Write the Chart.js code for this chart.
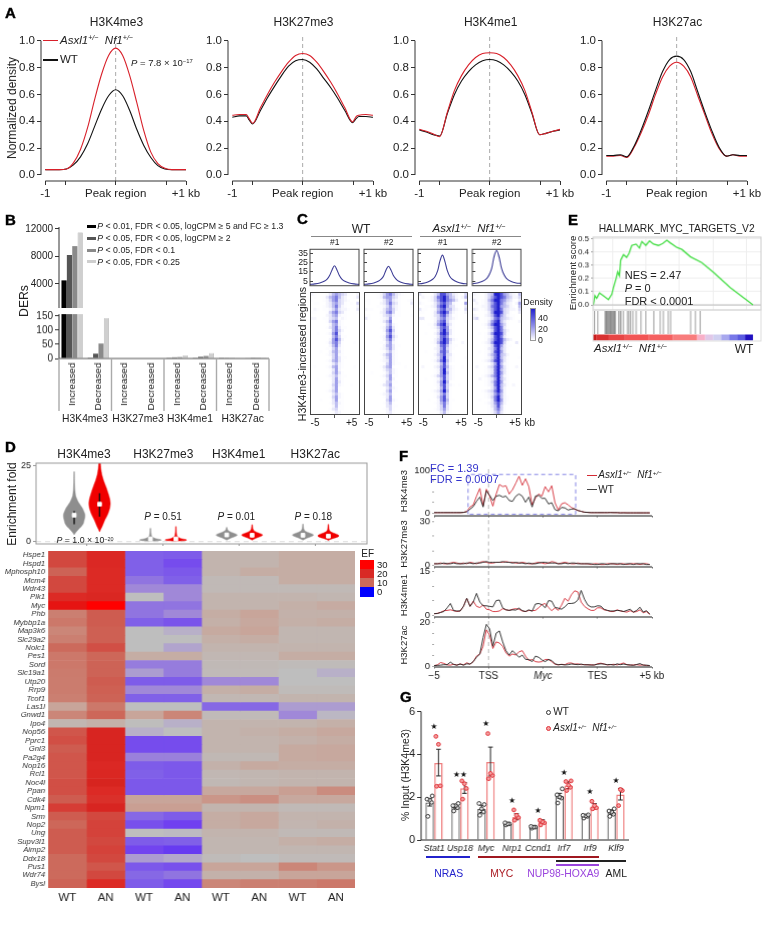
<!DOCTYPE html>
<html>
<head>
<meta charset="utf-8">
<script src="https://cdn.jsdelivr.net/npm/chart.js@4/dist/chart.umd.js"></script>
<style>
  html, body { margin: 0; background: #fff; }
  #page { position: relative; width: 770px; height: 927px; overflow: hidden; font-family: "Liberation Sans", Arial, sans-serif; color: #222; }
  #page canvas { position: absolute; }
  .t { position: absolute; white-space: nowrap; line-height: 1; }
  .t sup { font-size: 0.62em; vertical-align: baseline; position: relative; top: -0.45em; }
  .r { position: absolute; box-sizing: border-box; }
</style>
</head>
<body>
<div id="page"></div>
<script>
// Panel A
const peakX = [-1,-.9,-.8,-.7,-.6,-.5,-.4,-.3,-.2,-.1,0,.1,.2,.3,.4,.5,.6,.7,.8,.9,1];
const k4me3An = [.04,.04,.04,.045,.09,.19,.35,.56,.75,.89,.945,.89,.74,.54,.33,.17,.085,.05,.04,.04,.04];
const k4me3Wt = [.04,.04,.04,.045,.075,.135,.23,.36,.49,.59,.635,.59,.48,.34,.22,.13,.07,.045,.04,.04,.04];
const k27me3X = [-1,-.9,-.8,-.76,-.71,-.6,-.5,-.4,-.3,-.2,-.1,0,.1,.2,.3,.4,.5,.6,.71,.76,.8,.9,1];
const k27me3An = [.445,.45,.45,.42,.385,.5,.6,.69,.77,.84,.89,.905,.89,.84,.77,.69,.6,.5,.395,.435,.445,.45,.445];
const k27me3Wt = [.43,.44,.44,.41,.38,.48,.575,.66,.74,.81,.85,.86,.84,.79,.72,.65,.57,.48,.39,.42,.435,.435,.43];
const dipX = [-1,-.9,-.8,-.71,-.6,-.5,-.4,-.3,-.2,-.1,0,.1,.2,.3,.4,.5,.6,.71,.8,.9,1];
const k4me1An = [.34,.325,.305,.285,.47,.63,.74,.82,.875,.905,.91,.905,.875,.82,.74,.63,.47,.30,.31,.325,.34];
const k4me1Wt = [.335,.32,.30,.29,.46,.6,.7,.77,.82,.85,.86,.85,.82,.77,.7,.6,.46,.30,.31,.325,.335];
const k27acAn = [.14,.14,.145,.13,.21,.32,.45,.6,.73,.81,.84,.81,.73,.59,.45,.31,.2,.14,.15,.14,.14];
const k27acWt = [.145,.145,.15,.135,.22,.34,.48,.63,.77,.86,.885,.86,.77,.62,.47,.33,.21,.14,.15,.145,.145];
const normTicks = [0,.2,.4,.6,.8,1];

// Panel B
const derCats = ['Increased','Decreased','Increased','Decreased','Increased','Decreased','Increased','Decreased'];
const derStrict = [4500,3,0,0,1,1,1,2];
const derCpm = [8200,17,0,0,4,6,1,3];
const derFdr10 = [9500,53,0,0,5,9,1,3];
const derFdr25 = [11500,142,0,0,11,19,1,4];
const derUpperTicks = [4000,8000,12000];
const derLowerTicks = [0,50,100,150];

// Panel C
const densX = [-5,-4,-3,-2,-1.5,-1,-.5,0,.5,1,1.5,2,3,4,5];
const densWt1 = [1.5,2,3,5,7,11,17,21.5,17,11,7,5,3,2,1.5];
const densWt2 = [1.5,2,3,5,7,10.5,17,21,17,11,7.5,5,3,2,1.5];
const densAn1 = [2,2.5,4,7,10,16,27,33,26,16,10,7,4,2.5,2];
const densAn2 = [2,3,4.5,8,12,19,32,38,31,19,12,8,4.5,3,2.5];
const densTicks = [5,15,25,35];
const heatWt1 = ["2100013565431102","0100135675320013","1000124674321000","0110023564310104","0000123574210002","0210112463221003","1100014674310001","0000023562110000","2200113451210000","0000014672100000","0000002562100000","0000013573110000","0000001574200000","0010012683100000","0000001574110000","0000002685200000","0000013674100010","0000002573100000","0000011462100000","0001002563100000","0000012462100000","0000001463110000","0000012563100000","0000001352100000","0100012562100010","0000001362000000","0000001463100000","0000012352110000","0010001362100000","0000000363100000","0000001462100100","0000001361000000","0000012461000000","0000000352100000","0000001462100000","0001000361100000","0000001352100000","0000000251100000","0000001341100000","0000000132000000"];
const heatWt2 = ["1000124675321001","0000125664310000","1100013563210012","0100023574310003","0000112463210001","2110013564210000","0000023674110000","1100013452110001","3100012361100000","0000013571000000","0000001462100000","0000012573100000","0000002684100000","0000001573100000","0000012684200000","0000002573100000","0000011462100000","0000002563110000","0000012463100000","0000001352100000","0000013562100000","0000002462100000","0100012362100000","0000001462110000","0000013561000100","0000002452100000","0010001352100000","0000012461100000","0000001362000000","0000001451100000","0000013461000000","0000000352100000","0000001461100000","0000012351000000","0000001361000000","0000000462100000","0000001351000000","0000000341100000","0000001241000000","0000000231000000"];
const heatAn1 = ["3100135886532104","0211247897542125","1001246897653102","2100135786521016","0011236896431003","3110125785532104","1100136897421002","0000134785311000","3300124674321000","0000025784210001","0001136895310000","0000124786210000","0000013796310000","0010024897310000","0000013786210000","0000024797421000","0000125897310020","0000013785211000","0000023684210000","0010013785200000","0000024684310000","0000013694210001","0000124795210000","0000012584100000","0200023685210010","0000012694210000","0000012695210000","0000124684210000","0010012584210000","0000013695100000","0000012684210100","0000002584100000","0000123695100000","0000012574100000","0000013684100000","0001002685110000","0000012574100000","0000002473100000","0000012463100000","0000001352100000"];
const heatAn2 = ["2100245998653215","1100246898754224","3101257997643103","1201246897532026","0112247896542105","3201246897432214","1000136998431003","2100235896421100","3400124785432100","0000136895310002","0001247996410000","0000135897310000","0000024897420000","0010136998410000","0000124897310000","0000135898532000","0001236998410030","0000124896311000","0000134795310000","0010124896300000","0000135795420000","0000124795310001","0001235896310000","0000013695210000","0200134796310020","0000123795310000","0000123796310000","0001235795210000","0020123695310000","0000124796210000","0000123795310200","0000013695200000","0001234796200000","0000123685200000","0000124795210000","0010013796210000","0000123685200000","0000013584100000","0000012574100000","0000012463100000"];

// Panel D violins: half widths at each fold level
const violinPos = [1,2,4,5,7,8,10,11];
const violinLevels = [
  [23,20,17,15,13,11,9,8,6,5,4,3,2.3],
  [26,24,22,20,18,16,14,12.5,11,9,7,5,4,3.2],
  [4.4,3,2,1.5,1,.7,.5,.3,.2],
  [5,3,2,1.5,1,.7,.5,.3,.2],
  [4.7,4,3.5,3,2.5,2.2,1.8,1.3,.8,.5],
  [5.6,4.2,3.5,3,2.5,2.2,1.8,1.3,.8,.5],
  [5.8,4.2,3.5,3,2.5,2.2,1.8,1.3,.8,.5],
  [5.7,4,3.3,2.8,2.3,1.9,1.5,1.1,.7,.4]
];
const violinWidths = [
  [.01,.015,.03,.06,.16,.32,.42,.42,.36,.28,.16,.06,0],
  [.03,.05,.09,.16,.25,.33,.40,.42,.40,.32,.2,.1,.04,0],
  [.01,.02,.04,.08,.2,.38,.42,.3,0],
  [.01,.02,.04,.08,.2,.38,.42,.3,0],
  [.01,.03,.08,.2,.36,.42,.36,.2,.07,0],
  [.01,.03,.08,.2,.36,.42,.36,.2,.07,0],
  [.01,.03,.08,.2,.36,.42,.36,.2,.07,0],
  [.01,.03,.08,.2,.36,.42,.36,.2,.07,0]
];
const violinMedian = [8.7,12.3,.9,.9,2.2,2.1,2.1,1.8];
const violinQ1 = [5.7,8.2,.8,.8,1.9,1.9,1.8,1.5];
const violinQ3 = [10,15.9,1,1,2.5,2.4,2.4,2.1];

// Panel D heatmap
const genes = ['Hspe1','Hspd1','Mphosph10','Mcm4','Wdr43','Plk1','Myc','Phb','Mybbp1a','Map3k6','Slc29a2','Nolc1','Pes1','Sord','Slc19a1','Utp20','Rrp9','Tcof1','Las1l','Gnwd1','Ipo4','Nop56','Pprc1','Gnl3','Pa2g4','Nop16','Rcl1','Noc4l','Ppan','Cdk4','Npm1','Srm','Nop2','Ung','Supv3l1','Aimp2','Ddx18','Pus1','Wdr74','Bysl'];
const efK4me3Wt = [15,15,11,15,15,20,27,8.5,9,8,8.5,10,9,9,8.8,8.7,8.7,8.5,7,8,5.8,13,14,12,13,13,13,14,14,12,17,12,10.5,12,12,12,10,10,10,11];
const efK4me3An = [21,21,20,20,20,22,30,12,12,11.5,11.5,14,10.5,11,11,12,11.5,11,9,10.5,6.3,23,23,23,23,21,22,24,20,19,23,15,16,16,15,16,15,13,15,20];
const efK27me3Wt = [2,2,2,2.5,3,5,2.5,2.5,2,5,5,5,6.5,2.7,3.5,1.9,3,2,5,7,5.1,4,1.5,1.5,2.8,1.9,2,1.8,1.8,7,7.2,2.2,1.6,5,1.9,1.3,3.5,1.8,2.2,1.9];
const efK27me3An = [1.9,1.5,1.8,2,3,3,2.5,3,1.7,4,5,3.7,6.5,2.7,2.7,1.9,3,2,5,8,4,5,1.5,1.5,2.8,1.8,1.8,1.8,1.8,7,7.2,1.9,1.2,4.7,2,1.1,3.8,1.6,2.5,1.4];
const efK4me1Wt = [6,6,6,5.5,5.5,6,6,6.5,6.3,6.7,6.3,6,5.7,5.5,5.4,3,6.3,5.7,2.2,5.4,6,6,6,6,5.6,6.2,5.7,5.6,6.8,7.5,6,6.5,6.5,6,5.8,5.8,5.3,7,6.2,8];
const efK4me1An = [6,6,6.5,5.5,5.5,6,6,7,6.8,7,6.5,6,5.7,5.5,5.4,3,6.5,5.7,2.2,5.4,6,6.2,6,6,5.6,6.7,5.8,5.8,6.8,7.7,6,6.8,6.8,6,5.8,5.8,5,7,6.2,8.5];
const efK27acWt = [6.5,6.5,6.5,6.5,5.5,6,6.3,6.2,6.3,5.8,5.8,6,6.5,5.3,5,5,5.3,6,3.5,3,6,6.5,6.2,6.7,6.7,6.5,6,6,7.2,6.8,5.5,6,5.9,5.5,6.3,5.8,5.4,8,7,8.5];
const efK27acAn = [6.5,6.5,6.5,6.5,5.5,5.8,6.6,6.2,6.5,5.8,5.8,6,6.5,5.3,4,5,5.3,6,3.5,4.5,6.3,6.8,6.5,6.8,6.8,6.5,6,6,7.8,6.8,5.5,6,6.2,5.5,6.5,5.8,5.4,7.5,7,9];
const efCols = ['WT','AN','WT','AN','WT','AN','WT','AN'];
const efStops = [0,1.2,2,3,4,5,6,7,8,10,15,20,25,30];
const efColors = ['#0000ff','#7040f0','#8060e8','#a088d8','#b8b0c8','#bebebe','#c2b4ae','#c8a59a','#cb8678','#cc6a5c','#d2483f','#dc2a25','#d6221e','#ff0000'];

// Panel E
const gseaRank = [.2,1.2,2.3,4,7.5,9.6,11.7,12.7,14.4,15.4,16.5,17.3,19,21,22.5,24.2,26.9,29,30.5,33,35.3,37.8,40.9,43.6,46.1,48.2,52.4,55.5,60.8,68,75.4,85.8,100];
const gseaScore = [0,.07,.05,.09,.06,.04,.08,.13,.2,.25,.22,.34,.38,.36,.39,.45,.46,.43,.48,.45,.485,.46,.45,.465,.49,.47,.435,.42,.365,.32,.245,.13,0];
const gseaHits = [1,3,7.5,8,8.5,9,9.5,10,10.5,11,11.5,12,12.5,13,13.5,14,16,17,17.5,19,21.5,22.5,23.5,25,27,30,33,38,42,44,47,48.5,61,64,67];
const gseaTicks = [0,.1,.2,.3,.4,.5];
const gseaBarEdges = [0,2,10,20,35,50,65,70,75,80,85,90,95,100];
const gseaBarColors = ['#c81a1a','#d83030','#e84545','#f25555','#f56060','#f87c7c','#f8b0c8','#e0c8e8','#d0d0f0','#a8a8ee','#7878e8','#5a5ae0','#2010c0'];

// Panel F
const mycK4me3An = [2,2,2,2,2,2,2,2,2,2.5,5,15,20,40,58,18,56,40,17,45,67,62,64,45,55,70,86,65,80,62,20,35,45,40,62,50,64,25,8,22,25,20,14,10,7,5,3,2.5,2,2,2,2,2,2,2.5,2,2,1.5,2,1.5,1.5,1.5,1.5,1.5,1.5,1.5,1.5];
const mycK4me3Wt = [2,2,2,2,2,2,2,2,2,2.5,4,10,16,28,38,15,52,42,30,40,42,38,40,30,28,40,45,40,26,38,15,40,42,35,35,22,25,9,6,14,13,8,10,11,7,5,3,2.5,2,2,2,2,2,2,2,2,2,1.5,1.5,1.5,1.5,1.5,1.5,1.5,1.5,1.5,1.5];
const mycK27me3An = [1,1,1.5,1,1,1.5,2,1.5,1,1.5,1,2,1.5,1,2,2.5,2,1.5,1.5,2,2,2,2.5,2,2,1.5,1.5,2,1.5,1,1,1.5,2,1.5,1,1.5,2.5,2,1,1.5,2,1.5,1,1,1.5,1,1,1,.5,1,1,.5,.5,1,1,1,.5,1,1,.5,1,1,1,.5,1,1,.5];
const mycK27me3Wt = [1,1,1,1.5,1,1,1.5,1,1,1,1.5,1.5,1,1.5,1.5,2,2.5,2,2,2,2,2.5,2,2,1.5,2,1.5,1.5,1,1.5,1,1,1.5,2,2,1.5,1.5,1.5,1,1,1.5,1,1.5,1.5,1,1,1,1,1,.5,.5,1,1,.5,1,1,1,1,.5,1,1,.5,1,1,1,.5,.5];
const mycK4me1An = [.4,.6,.9,1.5,1.6,1.8,1.5,1.2,1.4,3,5.8,3,4.8,3,2.6,3.5,2,1.8,1.2,1.2,1.4,2.2,1.8,1.6,2,2.2,2,1.4,1.2,1.6,1.5,1.6,2.5,3.6,4,2.6,1.5,2.5,1.6,3.4,5.8,4.8,7,8.4,8,4.5,3,2.2,1.6,1.6,2.5,2.5,1.8,1.6,1.2,1.2,1.8,1.4,1.2,1,1.5,1,1.2,1.8,.8,1.2,.2];
const mycK4me1Wt = [.5,.5,.9,1.2,2.5,4,1.5,1.4,1.4,3,5.8,3,4.5,7.5,4.5,3.2,3.2,3,2.8,5,5.2,2.5,1.8,1.6,1.8,1.7,2.4,1.5,1.2,1.8,1.3,3.8,4,3.6,2.5,5,4.8,2.6,2.4,2,2.8,4,4,4.2,5.2,8.5,5.5,3.5,2.8,2.8,3.2,3.1,2,1.6,1.4,1.4,1.6,1.5,1.2,1.6,2,1,1.6,2.7,1,1.5,.3];
const mycK27acAn = [.2,.5,1.6,1.2,.5,.4,.8,.4,1,.5,1.5,.8,2,4.5,5.5,9,16.5,14,8,11,10.5,9,6,4.5,5.5,5,6.5,7,4.5,2.5,3,2,1.8,2,3,3,2,.8,.5,.8,.6,1.3,1.4,.8,1,.6,.7,.5,.6,.4,1,1.3,.9,.5,.6,.8,.5,.9,1.4,.6,.4,.5,.6,.4,.5,.2,.1];
const mycK27acWt = [.2,.3,.4,.6,.6,1.8,.7,.4,.9,.4,1,.9,2,4,5.5,13,19,17,9,15,16,11,7,5,7,5.5,4,5,3,3,2,4.5,4,2.8,2,3,2.5,1,.6,.7,.5,.6,.9,.8,.6,.9,.5,.6,.4,.5,.8,1,.9,.6,.7,.4,1,.6,.9,.6,.5,.3,.7,1.1,.4,.4,.2];
const mycAxisTicks = [-5,-2.5,0,2.5,5];
const mycAxisLabels = ['−5','TSS','Myc','TES','+5 kb'];

// Panel G
const chipGenes = ['Stat1','Usp18','Myc','Nrp1','Ccnd1','Irf7','Irf9','Klf9'];
const chipWt = [1.75,1.55,1.45,.75,.6,2.05,1.12,1.3];
const chipAn = [3.6,2.42,3.65,1.08,.87,2.55,1.57,2.13];
const chipWtSem = [.17,.1,.17,.04,.03,.12,.05,.1];
const chipAnSem = [.62,.25,.67,.14,.07,.16,.12,.27];
const chipWtDots = [[1.1,1.75,1.85,1.9,2.05],[1.35,1.5,1.6,1.6,1.7],[1.15,1.3,1.45,1.7,1.65],[.7,.75,.75,.8],[.55,.6,.6,.63],[1.72,1.95,2,2.1,2.38],[1.02,1.1,1.12,1.15,1.17],[1.1,1.2,1.3,1.35,1.45]];
const chipAnDots = [[2.5,2.52,4.45,4.82],[1.9,2.4,2.62,2.75],[2.85,3,3.1,4.95],[.92,1.05,1.15,1.4],[.7,.8,.85,.92],[2.3,2.45,2.55,2.72,2.75],[1.45,1.5,1.6,1.8],[1.6,2.3,2.35]];
const chipStars = ['★','★★','★','★','★','★','★','★'];
const chipStarY = [5.27,3.05,5.4,1.83,1.33,3.1,2.23,2.76];
const chipTicks = [0,2,4,6];

const RED = '#d8202a';
const page = document.getElementById('page');
const AN_LABEL = '<i>Asxl1<sup>+/−</sup> &nbsp;Nf1<sup>+/−</sup></i>';

// draws the axis lines, frames and separators the figure uses
Chart.register({
  id: 'panelDeco',
  afterDatasetsDraw(chart, args, o) {
    const c = chart.ctx, a = chart.chartArea;
    c.save();
    if (o.frame) {
      c.strokeStyle = o.frame; c.lineWidth = o.frameWidth || 1;
      c.strokeRect(a.left, a.top, a.right - a.left, a.bottom - a.top);
    }
    if (o.xLine) {
      const s = chart.scales.x;
      c.strokeStyle = o.xLine; c.lineWidth = o.xWidth || 1;
      c.beginPath();
      c.moveTo(o.xRange ? s.getPixelForValue(o.xRange[0]) : a.left, a.bottom);
      c.lineTo(o.xRange ? s.getPixelForValue(o.xRange[1]) : a.right, a.bottom);
      c.stroke();
    }
    if (o.yLine) {
      const s = chart.scales.y;
      c.strokeStyle = o.yLine; c.lineWidth = o.yWidth || 1;
      c.beginPath();
      c.moveTo(a.left, o.yRange ? s.getPixelForValue(o.yRange[0]) : a.bottom);
      c.lineTo(a.left, o.yRange ? s.getPixelForValue(o.yRange[1]) : a.top);
      c.stroke();
    }
    if (o.groupRule) {
      const w = (a.right - a.left) / 4;
      c.strokeStyle = o.groupRule; c.lineWidth = 1.4;
      for (let i = 0; i <= 4; i++) {
        c.beginPath(); c.moveTo(a.left + i * w, a.bottom); c.lineTo(a.left + i * w, a.bottom + o.groupLen); c.stroke();
      }
    }
    if (o.marks) {
      const sx = chart.scales.x, sy = chart.scales.y;
      c.fillStyle = '#111'; c.font = '8px "DejaVu Sans"'; c.textAlign = 'center'; c.textBaseline = 'middle';
      o.marks.forEach((m, i) => c.fillText(m, sx.getPixelForValue(i + .5), sy.getPixelForValue(o.markY[i])));
    }
    c.restore();
  }
});

// box = plot area in page px; margins leave room for ticks around it
function plot(box, type, data, scales, deco, m) {
  const [L, T, R, B] = m || [40, 10, 30, 26];
  const cv = document.createElement('canvas');
  cv.style.left = (box[0] - L) + 'px';
  cv.style.top = (box[1] - T) + 'px';
  const w = box[2] - box[0] + L + R, h = box[3] - box[1] + T + B;
  cv.style.width = w + 'px'; cv.style.height = h + 'px';
  cv.width = w; cv.height = h;
  page.appendChild(cv);
  for (const id in scales) {
    const s = scales[id];
    if (s.display === false) continue;
    s.afterFit = id === 'x' ? (a => { a.height = B; }) : (a => { a.width = L; });
  }
  return new Chart(cv, {
    type, data,
    options: {
      responsive: false, animation: false, events: [],
      indexAxis: (deco && deco.horizontal) ? 'y' : 'x',
      layout: { autoPadding: false, padding: { top: T, right: R, left: 0, bottom: 0 } },
      scales,
      plugins: { legend: { display: false }, tooltip: { enabled: false }, title: { display: false }, panelDeco: deco || {} }
    }
  });
}

function txt(x, y, html, o = {}) {
  const d = document.createElement('div');
  d.className = 't';
  d.innerHTML = html;
  d.style.left = x + 'px'; d.style.top = y + 'px';
  d.style.fontSize = (o.s || 10) + 'px';
  if (o.c) d.style.color = o.c;
  if (o.b) { d.style.fontWeight = 'bold'; d.style.webkitTextStroke = '.4px #000'; }
  if (o.i) d.style.fontStyle = 'italic';
  const ax = o.a === 'l' ? '0' : o.a === 'r' ? '-100%' : '-50%';
  d.style.transform = `translate(${ax},-50%)` + (o.r ? ` rotate(${o.r}deg)` : '');
  page.appendChild(d);
}
function rule(x1, y1, x2, y2, color, border) {
  const d = document.createElement('div');
  d.className = 'r';
  d.style.left = x1 + 'px'; d.style.top = y1 + 'px';
  d.style.width = (x2 - x1) + 'px'; d.style.height = (y2 - y1) + 'px';
  if (border) d.style.border = border; else d.style.background = color;
  page.appendChild(d);
  return d;
}
const xy = (xs, ys) => xs.map((x, i) => ({ x, y: ys[i] }));
const gapped = segs => segs.flatMap(s => [{ x: s[0], y: s[1] }, { x: s[2], y: s[3] }, { x: s[2], y: null }]);
const ticksAt = vals => (s => { s.ticks = vals.map(value => ({ value })); });
const line = (points, color, width, extra) => Object.assign({ data: points, borderColor: color, backgroundColor: color, borderWidth: width, pointRadius: 0, showLine: true, fill: false }, extra);
const noGrid = { display: false, tickLength: 0 };

function linearAxis(min, max, vals, cb, font, extra) {
  return Object.assign({
    type: 'linear', min, max, afterBuildTicks: ticksAt(vals),
    border: { display: false },
    grid: { drawOnChartArea: false, tickLength: 4, tickColor: '#333', tickWidth: 1 },
    ticks: { autoSkip: false, maxRotation: 0, padding: 2, color: '#222', font: { family: 'Liberation Sans', size: font }, callback: cb }
  }, extra);
}

// ---- A ----
const peakPanels = [
  { title: 'H3K4me3', box: [41, 34, 186, 181], xs: peakX, an: k4me3An, wt: k4me3Wt, anTop: true },
  { title: 'H3K27me3', box: [227.7, 34, 373.3, 181], xs: k27me3X, an: k27me3An, wt: k27me3Wt, anTop: true },
  { title: 'H3K4me1', box: [415, 34, 560.3, 181], xs: dipX, an: k4me1An, wt: k4me1Wt, anTop: true },
  { title: 'H3K27ac', box: [601.7, 34, 747.3, 181], xs: dipX, an: k27acAn, wt: k27acWt, anTop: false }
];
peakPanels.forEach(p => {
  const wtLine = line(xy(p.xs, p.wt), '#111', 1.1, { cubicInterpolationMode: 'monotone' });
  const anLine = line(xy(p.xs, p.an), RED, 1.1, { cubicInterpolationMode: 'monotone' });
  const mid = line([{ x: 0, y: -.045 }, { x: 0, y: 1.05 }], '#aaa', 1, { borderDash: [4, 3] });
  plot(p.box, 'scatter', { datasets: p.anTop ? [anLine, wtLine, mid] : [wtLine, anLine, mid] }, {
    x: linearAxis(-1.061, 1, [-1, -.716, 0, .716, 1], v => v === -1 ? '-1' : v === 0 ? 'Peak region' : v === 1 ? '+1 kb' : '', 11.5),
    y: linearAxis(-.045, 1.05, normTicks, v => v.toFixed(1), 11.5, {})
  }, { xLine: '#333', xRange: [-1, 1], yLine: '#333', yRange: [0, 1] });
  txt((p.box[0] + p.box[2]) / 2 + 3, 21.7, p.title, { s: 12 });
});
rule(43.3, 40.2, 58.3, 41.4, RED);
txt(60, 40.7, AN_LABEL, { a: 'l', s: 11.5 });
rule(43.3, 59.4, 58.3, 60.6, '#111');
txt(60, 60, 'WT', { a: 'l', s: 11.5 });
txt(131, 62.7, '<i>P</i> = 7.8 × 10<sup>−17</sup>', { a: 'l', s: 9.5 });
txt(11.7, 107.8, 'Normalized density', { s: 12, r: -90 });

// ---- B ----
const derSets = () => [derStrict, derCpm, derFdr10, derFdr25].map((d, i) => ({
  data: d, backgroundColor: ['#000', '#555', '#8a8a8a', '#cfcfcf'][i], borderColor: '#999', borderWidth: i === 3 ? .6 : 0,
  categoryPercentage: .82, barPercentage: .96
}));
plot([59, 227, 269, 308.3], 'bar', { labels: derCats, datasets: derSets() }, {
  x: { type: 'category', border: { display: false }, grid: noGrid, ticks: { display: false } },
  y: linearAxis(466, 12291, derUpperTicks, v => String(v), 10)
}, { yLine: '#333' }, [40, 8, 8, 8]);
plot([59, 314, 269, 358.7], 'bar', { labels: derCats, datasets: derSets() }, {
  x: {
    type: 'category', border: { display: false }, grid: noGrid,
    ticks: { autoSkip: false, minRotation: 90, maxRotation: 90, padding: 4, color: '#222', font: { family: 'Liberation Sans', size: 9.8 } }
  },
  y: linearAxis(0, 157, derLowerTicks, v => String(v), 10)
}, { yLine: '#333', xLine: '#555', groupRule: '#aaa', groupLen: 52 }, [40, 8, 8, 60]);
[['H3K4me3', 85], ['H3K27me3', 138], ['H3K4me1', 190], ['H3K27ac', 242.7]].forEach(g => txt(g[1], 419, g[0], { s: 10.3 }));
txt(24, 301, 'DERs', { s: 12.2, r: -90 });
[
  ['#000', 226.3, '<i>P</i> &lt; 0.01, FDR &lt; 0.05, logCPM ≥ 5 and FC ≥ 1.3'],
  ['#555', 238.3, '<i>P</i> &lt; 0.05, FDR &lt; 0.05, logCPM ≥ 2'],
  ['#8a8a8a', 250, '<i>P</i> &lt; 0.05, FDR &lt; 0.1'],
  ['#cfcfcf', 261.7, '<i>P</i> &lt; 0.05, FDR &lt; 0.25']
].forEach(l => {
  rule(87.3, l[1] - 1.5, 96, l[1] + 1.5, l[0]);
  txt(97.3, l[1], l[2], { a: 'l', s: 8.75 });
});

// ---- C ----
const heatMix = d => {
  const t = Math.pow(d / 9, 2.1);
  return `rgb(${Math.round(255 - 222 * t)},${Math.round(255 - 222 * t)},${Math.round(255 - 50 * t)})`;
};
const heatPanels = [
  { l: 310.3, dens: densWt1, heat: heatWt1, id: '#1' },
  { l: 364.3, dens: densWt2, heat: heatWt2, id: '#2' },
  { l: 418.3, dens: densAn1, heat: heatAn1, id: '#1' },
  { l: 472.3, dens: densAn2, heat: heatAn2, id: '#2' }
];
heatPanels.forEach((p, k) => {
  const densY = linearAxis(0, 39.3, densTicks, v => k === 0 ? String(v) : '', 8.8, {
    grid: { drawOnChartArea: false, tickLength: -3, tickColor: '#444' }
  });
  densY.ticks.padding = 5;
  plot([p.l, 246.7, p.l + 49, 287.7], 'scatter', { datasets: [line(xy(densX, p.dens), '#3d3d96', 1.1, { tension: .35 })] }, {
    x: linearAxis(-5, 5, [0], () => '', 8, { grid: { drawOnChartArea: false, tickLength: 0 } }),
    y: densY
  }, { frame: '#444', frameWidth: 1 }, [24, 8, 8, 8]);
  const cols = Array.from({ length: 16 }, (_, c) => ({
    data: p.heat.map(() => 1),
    backgroundColor: p.heat.map(r => heatMix(+r[c] || 0)),
    borderWidth: 0, categoryPercentage: 1, barPercentage: 1
  }));
  const heat = plot([p.l, 292.7, p.l + 49, 414.3], 'bar', { labels: p.heat.map((_, i) => i), datasets: cols }, {
    x: linearAxis(0, 16, [0, 8, 16], () => '', 8, { stacked: true, grid: { drawOnChartArea: false, tickLength: 0 } }),
    y: { type: 'category', stacked: true, border: { display: false }, grid: noGrid, ticks: { display: false } }
  }, { horizontal: true }, [8, 8, 8, 8]);
  heat.canvas.style.filter = 'blur(0.6px)';
  rule(p.l - .5, 292.2, p.l + 49.5, 414.8, null, '1px solid #444');
  rule(p.l + 24, 414.8, p.l + 25, 417.8, '#555');
  txt(p.l + 24.5, 241.7, p.id, { s: 8.5 });
});
[[315, '-5'], [351.7, '+5'], [369, '-5'], [406.7, '+5'], [423.3, '-5'], [461, '+5'], [478.3, '-5'], [515, '+5'], [529.7, 'kb']].forEach(t => txt(t[0], 423, t[1], { s: 10 }));
txt(361, 229, 'WT', { s: 12 });
rule(311, 236.2, 411.7, 237, '#888');
txt(469, 229, AN_LABEL, { s: 11.5 });
rule(420, 236.2, 521, 237, '#888');
txt(301.7, 353.7, 'H3K4me3-increased regions', { s: 10.6, r: -90 });
txt(538, 302, 'Density', { s: 8.8 });
rule(530.3, 307.7, 535.8, 341, null, '1px solid #999').style.background = 'linear-gradient(#2121cd,#9090e8 55%,#fff)';
[[318, '40'], [329, '20'], [340, '0']].forEach(t => txt(538, t[0], t[1], { a: 'l', s: 8.8 }));

// ---- D violins ----
const violinSets = [];
violinPos.forEach((pos, i) => {
  const left = violinLevels[i].map((y, k) => ({ x: pos - violinWidths[i][k], y }));
  const right = violinLevels[i].map((y, k) => ({ x: pos + violinWidths[i][k], y })).reverse();
  const color = i % 2 ? '#f00000' : '#8e8e8e';
  // first dataset is painted on top
  violinSets.push({ data: [{ x: pos, y: violinMedian[i] }], pointStyle: 'rect', pointRadius: 2.6, backgroundColor: '#fff', borderColor: '#fff', showLine: false });
  violinSets.push(line([{ x: pos, y: violinQ1[i] }, { x: pos, y: violinQ3[i] }], '#111', 1.4));
  violinSets.push(line(left.concat(right), color, .5, { fill: 'shape', backgroundColor: color, tension: .2 }));
});
violinSets.push(line([{ x: -.5, y: 0 }, { x: 12.52, y: 0 }], '#ddd', 1, { borderDash: [5, 4] }));
plot([36, 463.3, 366.7, 544], 'scatter', { datasets: violinSets }, {
  x: linearAxis(-.5, 12.52, [1.5, 4.5, 7.5, 10.5], () => '', 8, { grid: { drawOnChartArea: false, tickLength: 2, tickColor: '#999' } }),
  y: linearAxis(-.76, 25.8, [0, 25], v => String(v), 9, { grid: { drawOnChartArea: false, tickLength: 3, tickColor: '#999' } })
}, { frame: '#999', frameWidth: 1 }, [20, 8, 8, 8]);
[['H3K4me3', 84], ['H3K27me3', 163.3], ['H3K4me1', 238.7], ['H3K27ac', 315.3]].forEach(g => txt(g[1], 454, g[0], { s: 12 }));
txt(11.7, 504, 'Enrichment fold', { s: 12, r: -90 });
txt(163, 516.7, '<i>P</i> = 0.51', { s: 10 });
txt(236.3, 516.7, '<i>P</i> = 0.01', { s: 10 });
txt(313.3, 516.7, '<i>P</i> = 0.18', { s: 10 });
txt(85, 540, '<i>P</i> = 1.0 × 10<sup>−20</sup>', { s: 8.8 });

// ---- D heatmap ----
function efColor(v) {
  let i = 0;
  while (i < efStops.length - 2 && v > efStops[i + 1]) i++;
  const t = Math.min(1, Math.max(0, (v - efStops[i]) / (efStops[i + 1] - efStops[i])));
  const hex = h => [1, 3, 5].map(k => parseInt(h.slice(k, k + 2), 16));
  const a = hex(efColors[i]), b = hex(efColors[i + 1]);
  return `rgb(${a.map((c, k) => Math.round(c + (b[k] - c) * t)).join(',')})`;
}
const efSets = [efK4me3Wt, efK4me3An, efK27me3Wt, efK27me3An, efK4me1Wt, efK4me1An, efK27acWt, efK27acAn].map(col => ({
  data: col.map(() => 1), backgroundColor: col.map(efColor), borderWidth: 0, categoryPercentage: 1, barPercentage: 1
}));
plot([48.3, 550.7, 354.7, 888.3], 'bar', { labels: genes, datasets: efSets }, {
  x: {
    type: 'linear', stacked: true, min: 0, max: 8, afterBuildTicks: ticksAt([.5, 1.5, 2.5, 3.5, 4.5, 5.5, 6.5, 7.5]),
    border: { display: false }, grid: noGrid,
    ticks: { autoSkip: false, maxRotation: 0, padding: 3, color: '#222', font: { family: 'Liberation Sans', size: 11.5 }, callback: (v, i) => efCols[i] }
  },
  y: {
    type: 'category', stacked: true, border: { display: false }, grid: noGrid,
    ticks: { autoSkip: false, padding: 3, color: '#333', font: { family: 'Liberation Sans', size: 7.7, style: 'italic' } }
  }
}, { horizontal: true }, [48, 8, 8, 24]);
txt(367.7, 554, 'EF', { s: 10 });
[['#ff0000', '30', 565], ['#d92a25', '20', 574], ['#cc6a5c', '10', 583], ['#0000ff', '0', 592]].forEach(l => {
  rule(360, l[2] - 4.6, 374, l[2] + 4.6, l[0]);
  txt(377, l[2], l[1], { a: 'l', s: 9.5 });
});

// ---- E ----
plot([593, 237.3, 760.7, 310], 'scatter', {
  datasets: [
    line(xy(gseaRank, gseaScore), '#44dd44', 1.3),
    line([{ x: 0, y: 0 }, { x: 105, y: 0 }], '#bbb', 1)
  ]
}, {
  x: linearAxis(0, 105, [12, 33, 54, 75, 96], () => '', 8, { grid: { color: '#eeeeee', tickLength: 0 } }),
  y: linearAxis(-.038, .513, gseaTicks, v => v.toFixed(1), 8, { grid: { color: '#eeeeee', tickLength: 2, tickColor: '#999' } })
}, { frame: '#ccc', frameWidth: 1 }, [20, 8, 8, 8]);
const rugSets = [line(gapped(gseaHits.map(h => [h, 7, h, 30])), 'rgba(50,50,50,.6)', .8)];
gseaBarColors.forEach((c, i) => rugSets.push(line([{ x: gseaBarEdges[i], y: 3.5 }, { x: gseaBarEdges[i + 1], y: 3.5 }], c, 6)));
plot([593, 310, 760.7, 341], 'scatter', { datasets: rugSets }, {
  x: linearAxis(0, 105, [], () => '', 8, { grid: noGrid }),
  y: linearAxis(0, 31, [], () => '', 8, { grid: noGrid })
}, { frame: '#ddd', frameWidth: 1 }, [8, 8, 8, 8]);
txt(676.7, 229, 'HALLMARK_MYC_TARGETS_V2', { s: 10.3 });
txt(572.7, 273, 'Enrichment score', { s: 9.6, r: -90 });
txt(624.7, 275.3, 'NES = 2.47', { a: 'l', s: 11 });
txt(624.7, 288, '<i>P</i> = 0', { a: 'l', s: 11 });
txt(624.7, 300.7, 'FDR &lt; 0.0001', { a: 'l', s: 11 });
txt(594, 349, AN_LABEL, { a: 'l', s: 11.5 });
txt(744, 349, 'WT', { s: 12 });

// ---- F ----
const fBins = mycK4me3An.map((_, i) => -5 + i * .15);
const fPanels = [
  { box: [434.3, 468, 651.7, 515.7], name: 'H3K4me3', min: -5.5, max: 104.6, top: 100, step: [0, 25, 50, 75, 100], an: mycK4me3An, wt: mycK4me3Wt, cy: 491 },
  { box: [434.3, 517, 651.7, 566.7], name: 'H3K27me3', min: -1.18, max: 33.3, top: 30, step: [0, 10, 20, 30], an: mycK27me3An, wt: mycK27me3Wt, cy: 543.5 },
  { box: [434.3, 568, 651.7, 617], name: 'H3K4me1', min: -.69, max: 16.3, top: 15, step: [0, 5, 10, 15], an: mycK4me1An, wt: mycK4me1Wt, cy: 594.7 },
  { box: [434.3, 618.5, 651.7, 666.7], name: 'H3K27ac', min: -.45, max: 21.45, top: 20, step: [0, 5, 10, 15, 20], an: mycK27acAn, wt: mycK27acWt, cy: 644.7 }
];
fPanels.forEach((p, k) => {
  const sets = [
    line(xy(fBins, p.wt), '#222', .9),
    line(xy(fBins, p.an), '#d42a34', .9),
    line([{ x: -2.5, y: p.min }, { x: -2.5, y: p.max }], '#bbb', 1, { borderDash: [4, 3] })
  ];
  if (k === 0) sets.unshift(line([{ x: -3.44, y: -1.6 }, { x: -3.44, y: 90 }, { x: 1.5, y: 90 }, { x: 1.5, y: -1.6 }, { x: -3.44, y: -1.6 }], '#8484e4', 1, { borderDash: [4, 3] }));
  const last = k === fPanels.length - 1;
  const xAxis = linearAxis(-5, 5, mycAxisTicks, (v, i) => last ? mycAxisLabels[i] : '', 10, {
    grid: { drawOnChartArea: false, tickLength: 1.5, tickColor: '#666' }
  });
  xAxis.ticks.font = ctx => ({ family: 'Liberation Sans', size: 10, style: ctx.index === 2 ? 'italic' : 'normal' });
  plot(p.box, 'scatter', { datasets: sets }, {
    x: xAxis,
    y: linearAxis(p.min, p.max, p.step, v => (v === 0 || v === p.top) ? String(v) : '', 9.5, {
      grid: { drawOnChartArea: false, tickLength: 2, tickColor: '#aaa' }
    })
  }, { xLine: '#666', xWidth: 1.3 }, [22, 8, 30, last ? 18 : 8]);
  txt(404, p.cy, p.name, { s: 9.5, r: -90 });
});
txt(430, 468.3, 'FC = 1.39', { a: 'l', s: 11, c: '#3333cc' });
txt(430, 479.3, 'FDR = 0.0007', { a: 'l', s: 11, c: '#3333cc' });
rule(586.7, 474.6, 596.7, 475.4, '#d42a34');
txt(598.3, 475, AN_LABEL, { a: 'l', s: 10 });
rule(586.7, 489.2, 596.7, 490, '#444');
txt(598.3, 489.7, 'WT', { a: 'l', s: 10 });

// ---- G ----
const dotJitter = [-.07, .07, 0, -.1, .1];
const dotPoints = (dots, shift) => dots.flatMap((d, i) => d.map((y, k) => ({ x: i + .5 + shift + dotJitter[k], y })));
const semSegs = (vals, sems, shift) => vals.flatMap((v, i) => {
  const x = i + .5 + shift;
  return [[x, v - sems[i], x, v + sems[i]], [x - .09, v - sems[i], x + .09, v - sems[i]], [x - .09, v + sems[i], x + .09, v + sems[i]]];
});
const dotSet = (points, edge, fill) => ({ data: points, pointRadius: 1.9, borderWidth: 1, borderColor: edge, backgroundColor: fill, showLine: false });
const gBox = [421.3, 711, 629, 840.3];
plot(gBox, 'bar', {
  labels: chipGenes,
  datasets: [
    { data: chipWt, backgroundColor: '#fff', borderColor: '#555', borderWidth: 1.3, categoryPercentage: .68, barPercentage: .95 },
    { data: chipAn, backgroundColor: '#fff', borderColor: '#ef7f7f', borderWidth: 1.5, categoryPercentage: .68, barPercentage: .95 }
  ]
}, {
  x: {
    type: 'category', border: { display: false }, grid: noGrid,
    ticks: { autoSkip: false, maxRotation: 0, padding: 3, color: '#222', font: { family: 'Liberation Sans', size: 9, style: 'italic' } }
  },
  y: linearAxis(0, 6, chipTicks, v => String(v), 11, {})
}, { xLine: '#222', yLine: '#222' }, [24, 8, 8, 24]);
// dots, error bars and stars sit on a numeric copy of the same axes
plot(gBox, 'scatter', {
  datasets: [
    dotSet(dotPoints(chipWtDots, -.17), '#333', 'rgba(255,255,255,.7)'),
    dotSet(dotPoints(chipAnDots, .17), '#e0333a', '#f4a0a0'),
    line(gapped(semSegs(chipWt, chipWtSem, -.17)), '#222', 1),
    line(gapped(semSegs(chipAn, chipAnSem, .17)), '#222', 1)
  ]
}, {
  x: linearAxis(0, 8, [], () => '', 8, { grid: noGrid }),
  y: linearAxis(0, 6, [], () => '', 8, { grid: noGrid })
}, { marks: chipStars, markY: chipStarY }, [24, 8, 8, 24]);
txt(405, 775.3, '% Input (H3K4me3)', { s: 10.5, r: -90 });
rule(425.7, 856.3, 470.3, 858.3, '#2222cc');
rule(478, 856.3, 599, 858.3, '#a01820');
rule(555.7, 860.3, 625.7, 862.3, '#222');
rule(555.7, 864.3, 599, 866.3, '#9a44dd');
txt(448.7, 874, 'NRAS', { s: 10.4, c: '#2222cc' });
txt(501.7, 874, 'MYC', { s: 10.4, c: '#aa1a22' });
txt(563.3, 874, 'NUP98-HOXA9', { s: 10.4, c: '#9a44dd' });
txt(616.3, 874, 'AML', { s: 10.4, c: '#222' });
[[712, '#333', '#fff'], [728.3, '#e0333a', '#f4a0a0']].forEach(d => {
  const el = rule(546, d[0] - 2.5, 551, d[0] + 2.5, d[2]);
  el.style.borderRadius = '50%';
  el.style.border = '1px solid ' + d[1];
});
txt(553.3, 712, 'WT', { a: 'l', s: 10 });
txt(553.3, 728.3, AN_LABEL, { a: 'l', s: 10 });

// panel letters
[['A', 5, 12], ['B', 5, 219], ['C', 297, 218], ['D', 5, 446], ['E', 568, 219], ['F', 399, 455], ['G', 400, 696]].forEach(l =>
  txt(l[1], l[2], l[0], { a: 'l', s: 15, b: true, c: '#000' }));
</script>
</body>
</html>
